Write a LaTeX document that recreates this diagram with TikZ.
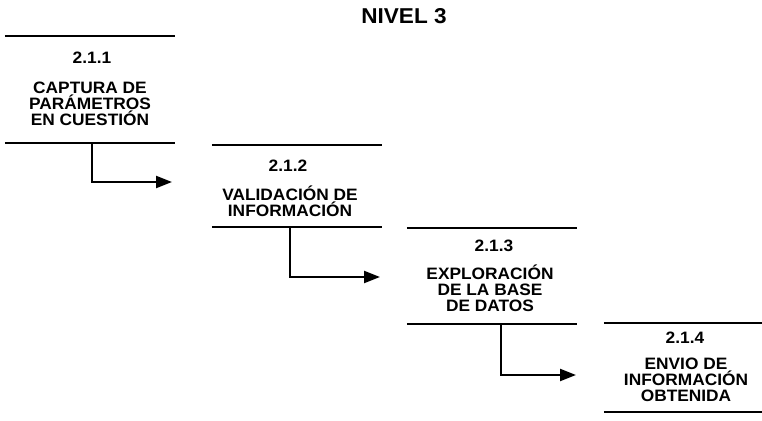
\documentclass[tikz,border=0pt]{standalone}
\usepackage{fontspec}
\setmainfont{Liberation Sans}[FakeStretch=1.05]
\usetikzlibrary{arrows.meta,positioning}

\begin{document}
\begin{tikzpicture}[x=1pt,y=-1pt,
every node/.style={inner sep=0pt, align=center},
blk/.style={draw=none, minimum width=170pt},
num/.style={font=\fontsize{16.5}{16}\selectfont\bfseries},
txt/.style={font=\fontsize{16.5}{16}\selectfont\bfseries},
rule/.style={line width=2.2pt},
flow/.style={line width=2.2pt, -{Triangle[length=16pt,width=12pt]}}]
\useasboundingbox (0,0) rectangle (762,420);
\node[font=\fontsize{21.5}{21}\selectfont\bfseries] (titulo) at (404,16) {NIVEL 3};
% bloques
\node[blk, minimum height=107pt] (b1) at (90,89.5) {};
\node[blk, minimum height=82pt] (b2) at (297,186) {};
\node[blk, minimum height=96pt] (b3) at (492,276) {};
\node[blk, minimum width=158pt, minimum height=89pt] (b4) at (683,367.5) {};
\foreach \b in {b1,b2,b3,b4} {
  \draw[rule] (\b.north west) -- (\b.north east);
  \draw[rule] (\b.south west) -- (\b.south east);
}
% textos
\node[num] (n1) at (92,58) {2.1.1};
\node[txt] (t1) at (90,104) {CAPTURA DE\\PARÁMETROS\\EN CUESTIÓN};
\node[num] (n2) at (288,166) {2.1.2};
\node[txt] (t2) at (290,201) {VALIDACIÓN DE\\INFORMACIÓN};
\node[num] (n3) at (494,246) {2.1.3};
\node[txt] (t3) at (490,288) {EXPLORACIÓN\\DE LA BASE\\DE DATOS};
\node[num] (n4) at (685,338) {2.1.4};
\node[txt] (t4) at (686,380) {ENVIO DE\\INFORMACIÓN\\OBTENIDA};
% flechas
\coordinate (e1) at (172,182);
\coordinate (e2) at (380,277);
\coordinate (e3) at (576,375);
\draw[flow] ([xshift=2pt]b1.south) |- (e1);
\draw[flow] ([xshift=-7pt]b2.south) |- (e2);
\draw[flow] ([xshift=9pt]b3.south) |- (e3);
\end{tikzpicture}
\end{document}
